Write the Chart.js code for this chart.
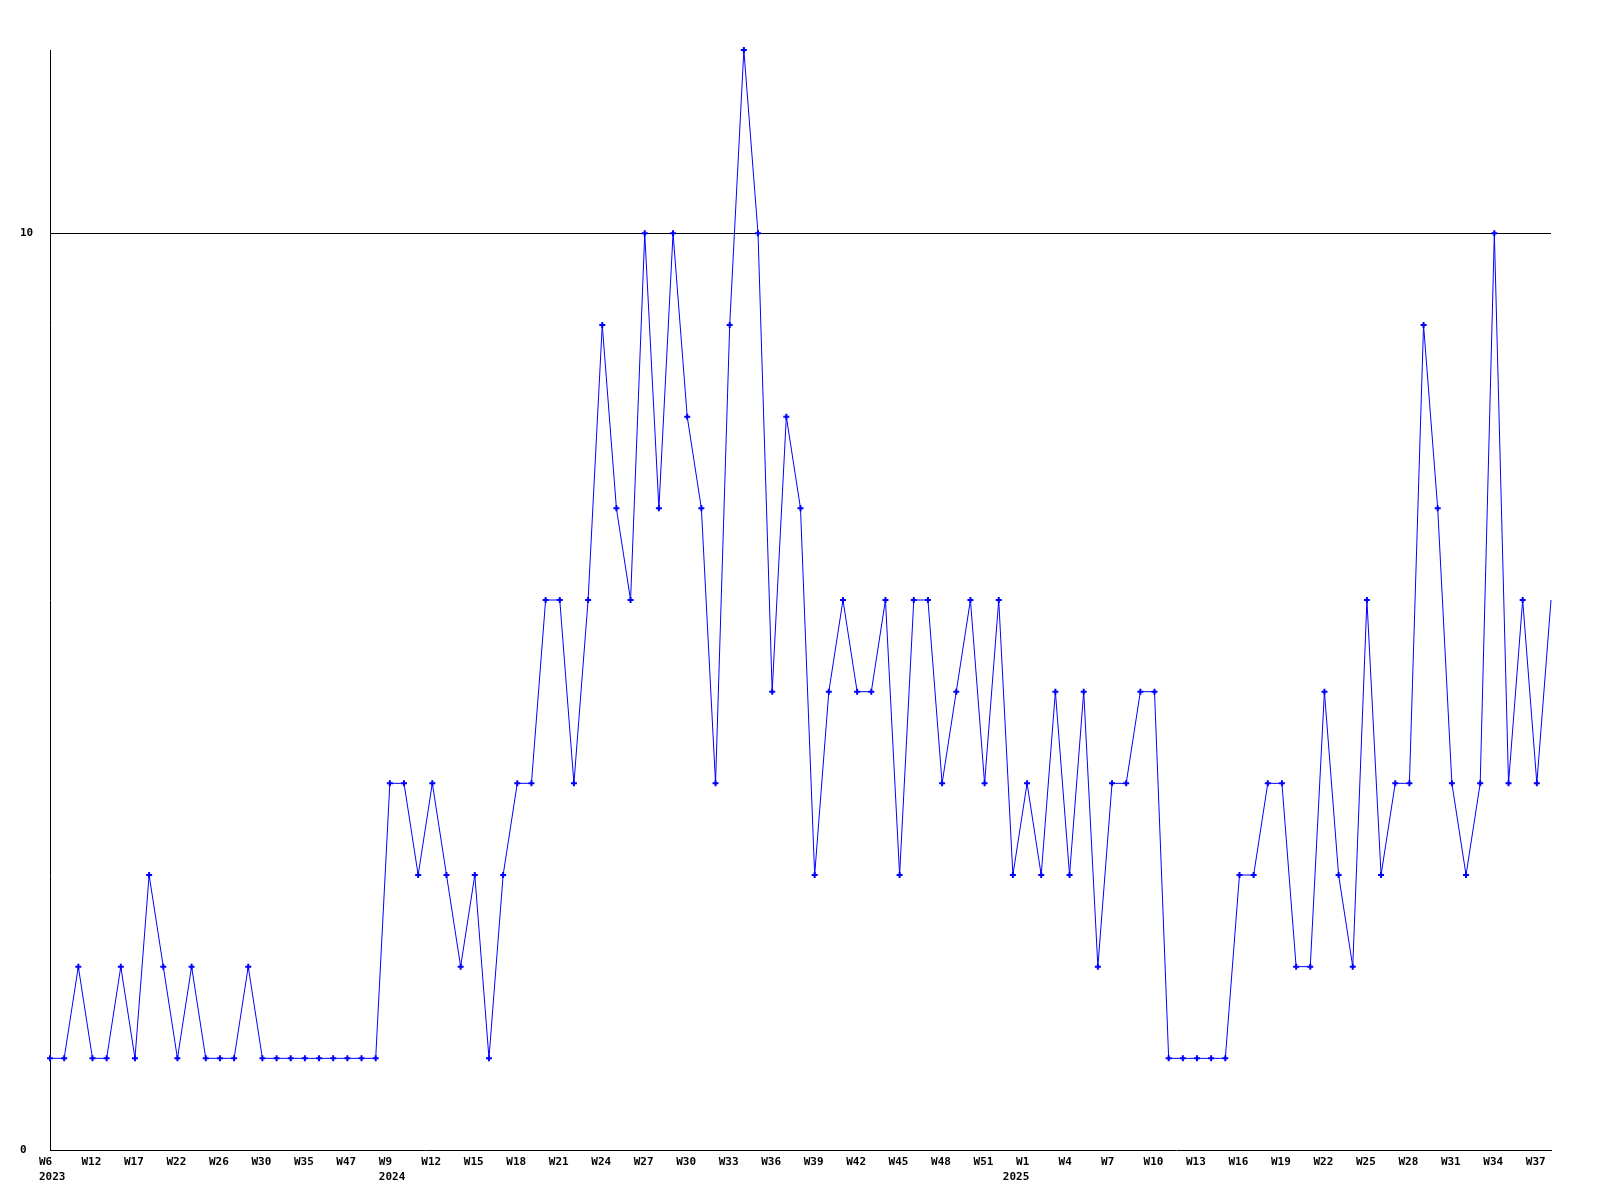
<!DOCTYPE html>
<html>
<head>
<meta charset="utf-8">
<script src="https://cdn.jsdelivr.net/npm/chart.js@4.4.1/dist/chart.umd.min.js"></script>
<style>
  html, body { margin: 0; padding: 0; background: #fff; }
  canvas { display: block; }
</style>
</head>
<body>
<canvas id="chart" width="1600" height="1200"></canvas>
<script>
// tick labels shown every 3rd week point
const tickLabels = ['W6','W12','W17','W22','W26','W30','W35','W47','W9','W12','W15','W18',
                    'W21','W24','W27','W30','W33','W36','W39','W42','W45','W48','W51','W1',
                    'W4','W7','W10','W13','W16','W19','W22','W25','W28','W31','W34','W37'];
// year shown under the first label of each year (index into tickLabels)
const yearTick  = [0, 8, 23];
const yearText  = ['2023', '2024', '2025'];
const yearAlign = ['left', 'left', 'right'];

const counts = [
  1,1,2,1,1,2,1,3,2,1,2,1,1,1,2,1,
  1,1,1,1,1,1,1,1,
  4,4,3,4,3,2,3,1,3,4,4,6,6,4,6,
  9,7,6,10,7,10,8,7,4,9,12,10,5,8,7,
  3,5,6,5,5,6,3,6,6,4,5,6,4,6,3,
  4,3,5,3,5,2,4,4,5,5,1,1,1,1,1,
  3,3,4,4,2,2,5,3,2,6,3,4,4,9,7,
  4,3,4,10,4,6,4,6
];

const yTicks = [0, 10];

// categories: one per point, labelled every third point
const categories = counts.map((_, i) => i % 3 === 0 ? tickLabels[i / 3] : '');

const FONT = { family: '"DejaVu Sans Mono", monospace', size: 11, weight: 'bold', lineHeight: 1.36 };
const LABEL_SHIFT = -11;

// second label row with the years, under the week label
const yearRow = {
  id: 'yearRow',
  afterDraw(chart) {
    const { ctx, scales: { x } } = chart;
    ctx.save();
    ctx.font = `bold ${FONT.size}px ${FONT.family}`;
    ctx.fillStyle = '#000';
    ctx.textBaseline = 'middle';
    yearTick.forEach((k, n) => {
      let px = x.getPixelForValue(k * 3) + LABEL_SHIFT;
      if (yearAlign[n] === 'right') px += ctx.measureText(tickLabels[k]).width;
      ctx.textAlign = yearAlign[n];
      ctx.fillText(yearText[n], px, x.top + 5 + 15 * 1.5);
    });
    ctx.restore();
  }
};

new Chart(document.getElementById('chart'), {
  type: 'line',
  data: {
    labels: categories,
    datasets: [{
      data: counts,
      borderColor: '#0000ff',
      backgroundColor: '#0000ff',
      borderWidth: 1,
      tension: 0,
      pointStyle: 'cross',
      pointRadius: counts.map((_, i) => i === counts.length - 1 ? 0 : 3),
      pointBorderWidth: 2,
      pointBorderColor: '#0000ff',
      clip: false,
    }]
  },
  options: {
    responsive: false,
    animation: false,
    layout: { padding: { left: 20, top: 50, right: 49, bottom: 0 } },
    plugins: { legend: { display: false }, tooltip: { enabled: false } },
    scales: {
      x: {
        offset: false,
        grid: { display: false, drawTicks: false },
        border: { display: true, color: '#000', width: 1 },
        ticks: {
          autoSkip: false,
          maxRotation: 0,
          minRotation: 0,
          align: 'start',
          labelOffset: LABEL_SHIFT,
          padding: 5,
          color: '#000',
          font: FONT,
        },
        afterFit: s => { s.height = 50; },
      },
      y: {
        min: 0,
        max: 12,
        grid: {
          drawTicks: false,
          color: ctx => ctx.tick && ctx.tick.value === 10 ? '#000' : 'rgba(0,0,0,0)',
          lineWidth: 1,
        },
        border: { display: true, color: '#000', width: 1 },
        afterBuildTicks: s => { s.ticks = yTicks.map(v => ({ value: v })); },
        ticks: {
          crossAlign: 'far',
          padding: 0,
          color: '#000',
          font: FONT,
        },
        afterFit: s => { s.width = 30; },
      }
    }
  },
  plugins: [yearRow]
});
</script>
</body>
</html>
